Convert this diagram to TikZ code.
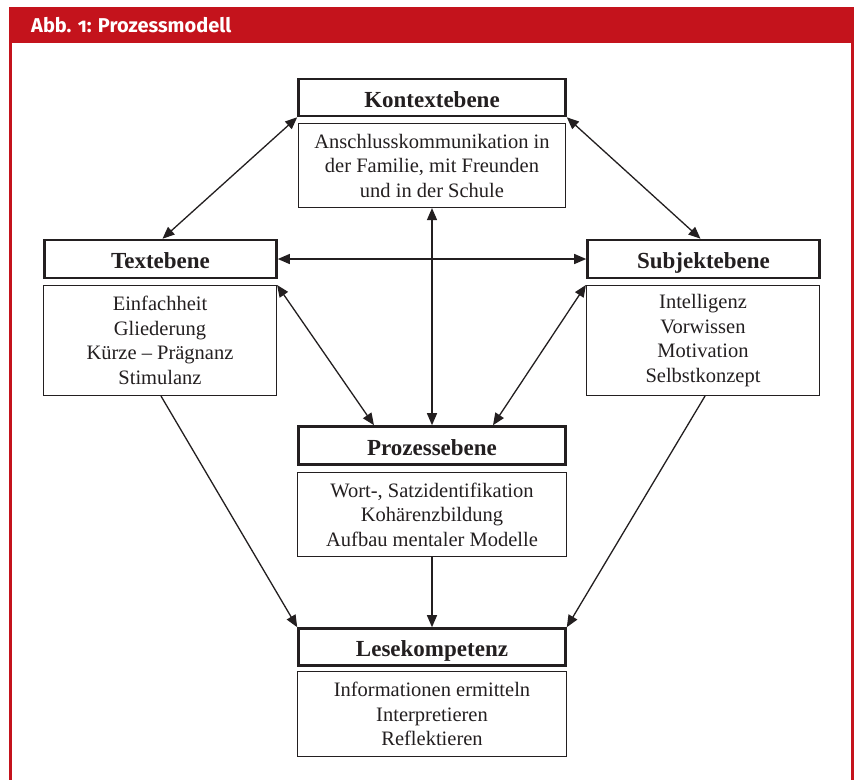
\documentclass[tikz,border=0pt]{standalone}
\usepackage{fontspec}
\setmainfont{Liberation Serif}
\newfontfamily\headfont[Numbers=OldStyle]{Fira Sans}
\usetikzlibrary{arrows.meta}
\definecolor{frred}{RGB}{196,19,28}
\definecolor{ink}{RGB}{35,31,32}
\tikzset{
  hbox/.style={draw=ink, line width=2.6pt, inner sep=0pt, text=ink,
    text height=21pt, text depth=2pt,
    font=\fontsize{23}{26}\selectfont\bfseries},
  cbox/.style={draw=ink, line width=1.1pt, inner sep=0pt, text=ink, align=center,
    font=\fontsize{20.5}{24.5}\selectfont},
  conn/.style={draw=ink, line width=1.3pt, -{Triangle[length=12pt,width=10pt]}},
  bconn/.style={draw=ink, line width=1.3pt, {Triangle[length=12pt,width=10pt]}-{Triangle[length=12pt,width=10pt]}},
}
\begin{document}
\begin{tikzpicture}[x=1pt,y=-1pt]
\useasboundingbox (0,0) rectangle (859,780);
\fill[white] (0,0) rectangle (859,780);
% frame
\fill[frred] (9,7) rectangle (854,43);
\fill[frred] (9,43) rectangle (12,780);
\fill[frred] (851,43) rectangle (854,780);
\node[anchor=west, text=white, inner sep=0pt, font=\headfont\bfseries\fontsize{20}{24}\selectfont] (title) at (31,25) {Abb. 1: Prozessmodell};
% boxes
\node[hbox, minimum width=267pt, minimum height=37pt] (kh) at (432,97.5) {Kontextebene};
\node[cbox, minimum width=267pt, minimum height=84pt] (kc) at (432,165.5) {Anschlusskommunikation in\\der Familie, mit Freunden\\und in der Schule};
\node[hbox, minimum width=232pt, minimum height=38pt] (th) at (160.5,259) {Textebene};
\node[cbox, minimum width=233pt, minimum height=110pt] (tc) at (160,340.5) {Einfachheit\\Gliederung\\Kürze – Prägnanz\\Stimulanz};
\node[hbox, minimum width=232pt, minimum height=38pt] (sh) at (703.5,259) {Subjektebene};
\node[cbox, minimum width=233pt, minimum height=110pt] (sc) at (703,340.5) {Intelligenz\\Vorwissen\\Motivation\\Selbstkonzept};
\node[hbox, minimum width=267pt, minimum height=38pt] (ph) at (432,445.5) {Prozessebene};
\node[cbox, minimum width=269pt, minimum height=84pt] (pc) at (432,514.5) {Wort-, Satzidentifikation\\Kohärenzbildung\\Aufbau mentaler Modelle};
\node[hbox, minimum width=267pt, minimum height=37pt] (lh) at (432,647) {Lesekompetenz};
\node[cbox, minimum width=269pt, minimum height=85pt] (lc) at (432,714) {Informationen ermitteln\\Interpretieren\\Reflektieren};
% connectors
\draw[bconn] (kh.south west) -- ([xshift=2pt]th.north);
\draw[bconn] (kh.south east) -- ([xshift=-3pt]sh.north);
\draw[bconn] (th.east) -- (sh.west);
\draw[bconn] (tc.north east) -- ([xshift=-58pt]ph.north);
\draw[bconn] (sc.north west) -- ([xshift=61pt]ph.north);
\draw[bconn] (kc.south) -- (ph.north);
\draw[conn] ([xshift=1pt]tc.south) -- (lh.north west);
\draw[conn] ([xshift=2pt]sc.south) -- (lh.north east);
\draw[conn] (pc.south) -- (lh.north);
\end{tikzpicture}
\end{document}
